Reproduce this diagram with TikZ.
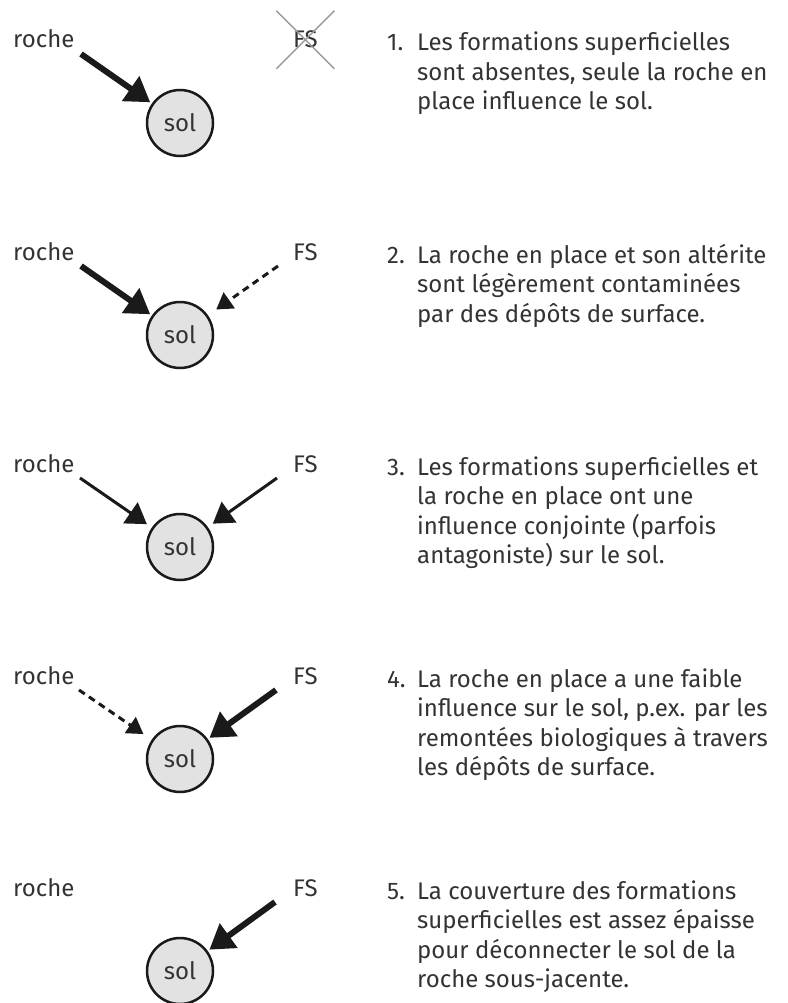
\documentclass[tikz,border=0pt]{standalone}
\usepackage{fontspec}
\setmainfont{Fira Sans}
\usetikzlibrary{arrows.meta,calc}
\definecolor{txt}{HTML}{333333}
\definecolor{ink}{HTML}{1A1A1A}
\definecolor{soilfill}{HTML}{E2E2E2}
\definecolor{crossc}{HTML}{999999}
\begin{document}
\begin{tikzpicture}[x=1pt,y=-1pt,
  lbl/.style={font=\fontsize{24}{29.5}\selectfont, text=txt, inner sep=0pt},
  para/.style={font=\fontsize{24}{29.5}\selectfont, text=txt, inner sep=0pt, anchor=base west},
  soil/.style={circle, draw=ink, line width=2.5pt, fill=soilfill, minimum size=66pt, inner sep=0pt,
    font=\fontsize{24}{29.5}\selectfont, text=txt},
  strong/.style={draw=ink, line width=6pt, -{Triangle[length=24pt,width=29pt]}, shorten >=2pt},
  medium/.style={draw=ink, line width=3pt, -{Triangle[length=20pt,width=25pt]}, shorten >=6pt},
  weak/.style={draw=ink, line width=3pt, dash pattern=on 7pt off 5pt, -{Triangle[length=16pt,width=19pt]}, shorten >=10pt},
  crossline/.style={draw=crossc, line width=1.5pt}
]
\useasboundingbox (0,0) rectangle (787,1003);

% ---------- row 1
\node[lbl, anchor=base west] (r1) at (13,48) {roche};
\node[lbl, anchor=base west] (f1) at (293,48) {FS};
\node[soil] (s1) at (180,123) {sol};
\coordinate (ra1) at (81,54);
\draw[strong] (ra1) -- (s1);
\draw[crossline] ($(f1.center)+(-29,-29)$) -- ($(f1.center)+(29,29)$);
\draw[crossline] ($(f1.center)+(29,-29)$) -- ($(f1.center)+(-29,29)$);
\node[para] (n1) at (387,51) {1.};
\node[para] (t1) at (417,51) {\begin{tabular}[t]{@{}l@{}}Les formations superficielles\\sont absentes, seule la roche en\\place influence le sol.\end{tabular}};

% ---------- row 2
\node[lbl, anchor=base west] (r2) at (13,260) {roche};
\node[lbl, anchor=base west] (f2) at (293,260) {FS};
\node[soil] (s2) at (180,335) {sol};
\coordinate (ra2) at (81,266);
\coordinate (fa2) at (278,266);
\draw[strong] (ra2) -- (s2);
\draw[weak] (fa2) -- (s2);
\node[para] (n2) at (387,263) {2.};
\node[para] (t2) at (417,263) {\begin{tabular}[t]{@{}l@{}}La roche en place et son altérite\\sont légèrement contaminées\\par des dépôts de surface.\end{tabular}};

% ---------- row 3
\node[lbl, anchor=base west] (r3) at (13,472) {roche};
\node[lbl, anchor=base west] (f3) at (293,472) {FS};
\node[soil] (s3) at (180,547) {sol};
\coordinate (ra3) at (80,478);
\coordinate (fa3) at (277,478);
\draw[medium] (ra3) -- (s3);
\draw[medium] (fa3) -- (s3);
\node[para] (n3) at (387,475) {3.};
\node[para] (t3) at (417,475) {\begin{tabular}[t]{@{}l@{}}Les formations superficielles et\\la roche en place ont une\\influence conjointe (parfois\\antagoniste) sur le sol.\end{tabular}};

% ---------- row 4
\node[lbl, anchor=base west] (r4) at (13,684) {roche};
\node[lbl, anchor=base west] (f4) at (293,684) {FS};
\node[soil] (s4) at (180,759) {sol};
\coordinate (ra4) at (79,690);
\coordinate (fa4) at (276,690);
\draw[weak] (ra4) -- (s4);
\draw[strong] (fa4) -- (s4);
\node[para] (n4) at (387,687) {4.};
\node[para] (t4) at (417,687) {\begin{tabular}[t]{@{}l@{}}La roche en place a une faible\\influence sur le sol, p.ex. par les\\remontées biologiques à travers\\les dépôts de surface.\end{tabular}};

% ---------- row 5
\node[lbl, anchor=base west] (r5) at (13,896) {roche};
\node[lbl, anchor=base west] (f5) at (293,896) {FS};
\node[soil] (s5) at (180,971) {sol};
\coordinate (fa5) at (275,902);
\draw[strong] (fa5) -- (s5);
\node[para] (n5) at (387,899) {5.};
\node[para] (t5) at (417,899) {\begin{tabular}[t]{@{}l@{}}La couverture des formations\\superficielles est assez épaisse\\pour déconnecter le sol de la\\roche sous-jacente.\end{tabular}};
\end{tikzpicture}
\end{document}
